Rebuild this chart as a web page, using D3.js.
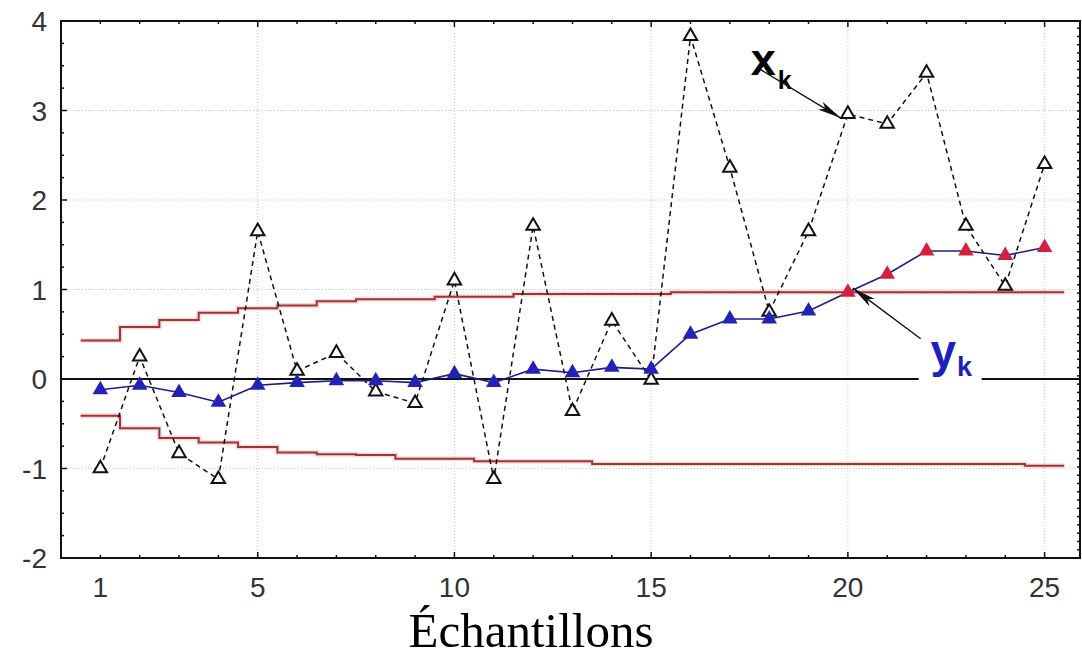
<!DOCTYPE html>
<html>
<head>
<meta charset="utf-8">
<script src="https://cdn.jsdelivr.net/npm/d3@7"></script>
<style>
html,body{margin:0;padding:0;background:#fff;}
svg{display:block;}
</style>
</head>
<body>
<svg id="chart" width="1082" height="657"></svg>
<script>
// ---- data ----
const samples = [1,2,3,4,5,6,7,8,9,10,11,12,13,14,15,16,17,18,19,20,21,22,23,24,25];
const xk = [-1.00, 0.25, -0.83, -1.12, 1.65, 0.09, 0.29, -0.14, -0.27, 1.10, -1.12, 1.71, -0.36, 0.65, -0.01, 3.83, 2.36, 0.75, 1.65, 2.96, 2.85, 3.42, 1.71, 1.04, 2.40];
const yk = [-0.12, -0.07, -0.15, -0.26, -0.07, -0.04, -0.02, -0.02, -0.04, 0.06, -0.04, 0.11, 0.07, 0.13, 0.11, 0.50, 0.67, 0.67, 0.76, 0.97, 1.17, 1.43, 1.43, 1.38, 1.47];
const upperLimit = [0.43, 0.58, 0.66, 0.74, 0.79, 0.82, 0.87, 0.89, 0.89, 0.92, 0.92, 0.95, 0.95, 0.95, 0.95, 0.97, 0.97, 0.97, 0.97, 0.97, 0.97, 0.97, 0.97, 0.97, 0.97];
const lowerLimit = [-0.41, -0.55, -0.66, -0.71, -0.76, -0.82, -0.84, -0.85, -0.89, -0.89, -0.92, -0.92, -0.92, -0.95, -0.95, -0.95, -0.95, -0.95, -0.95, -0.95, -0.95, -0.95, -0.95, -0.95, -0.97];
const alarm = [0,0,0,0,0,0,0,0,0,0,0,0,0,0,0,0,0,0,0,1,1,1,1,1,1];
const xTickLabels = [1, 5, 10, 15, 20, 25];
const yTickLabels = [-2, -1, 0, 1, 2, 3, 4];
const xLabel = "Échantillons";

// ---- layout ----
const svg = d3.select("#chart");
const x = d3.scaleLinear().domain([0, 25.9]).range([61, 1080]);
const y = d3.scaleLinear().domain([-2, 4]).range([558, 21]);

// grid
const grid = svg.append("g");
grid.selectAll("line.gv").data([5,10,15,20,25]).join("line")
  .attr("x1", d => x(d)).attr("x2", d => x(d)).attr("y1", y(4)).attr("y2", y(-2))
  .attr("stroke", "#c8c8c8").attr("stroke-width", 1).attr("stroke-dasharray", "1,2");
grid.selectAll("line.gh").data([-1,1,2,3]).join("line")
  .attr("x1", x(0)).attr("x2", x(25.9)).attr("y1", d => y(d)).attr("y2", d => y(d))
  .attr("stroke", "#c8c8c8").attr("stroke-width", 1).attr("stroke-dasharray", "1,2");

// zero line
svg.append("line").attr("x1", x(0)).attr("x2", x(25.9)).attr("y1", y(0)).attr("y2", y(0))
  .attr("stroke", "#111").attr("stroke-width", 2);

// limits (step lines)
const stepLine = d3.line().x(d => x(d[0])).y(d => y(d[1])).curve(d3.curveStepAfter);
function stepPts(vals){
  const pts = samples.map((s,i) => [s - 0.5, vals[i]]);
  pts.push([samples[samples.length-1] + 0.5, vals[vals.length-1]]);
  return pts;
}
[upperLimit, lowerLimit].forEach(v => {
  svg.append("path").attr("d", stepLine(stepPts(v)))
    .attr("fill", "none").attr("stroke", "#f3c4c4").attr("stroke-width", 5).attr("opacity", 0.6);
  svg.append("path").attr("d", stepLine(stepPts(v)))
    .attr("fill", "none").attr("stroke", "#9e3434").attr("stroke-width", 2);
});

// x_k dashed line
const line = d3.line().x(d => x(d[0])).y(d => y(d[1]));
svg.append("path").attr("d", line(samples.map((s,i) => [s, xk[i]])))
  .attr("fill", "none").attr("stroke", "#111").attr("stroke-width", 1.5).attr("stroke-dasharray", "5,4");

// y_k solid line
svg.append("path").attr("d", line(samples.map((s,i) => [s, yk[i]])))
  .attr("fill", "none").attr("stroke", "#1c1c8c").attr("stroke-width", 1.6);

// markers
const triOpen = d3.symbol().type(d3.symbolTriangle).size(78);
svg.selectAll("path.xk").data(samples).join("path")
  .attr("transform", (d,i) => `translate(${x(d)},${y(xk[i])})`)
  .attr("d", triOpen).attr("fill", "#fff").attr("stroke", "#111").attr("stroke-width", 2);

const triFill = d3.symbol().type(d3.symbolTriangle).size(105);
svg.selectAll("path.yk").data(samples).join("path")
  .attr("transform", (d,i) => `translate(${x(d)},${y(yk[i])})`)
  .attr("d", triFill).attr("fill", (d,i) => alarm[i] ? "#d3203e" : "#2222b4");

// axes frame
const frame = svg.append("g");
frame.append("rect").attr("x", x(0)).attr("y", y(4)).attr("width", x(25.9) - x(0)).attr("height", y(-2) - y(4))
  .attr("fill", "none").attr("stroke", "#111").attr("stroke-width", 2);

// ticks bottom/top
const xTicks = samples;
frame.selectAll("line.tb").data(xTicks).join("line")
  .attr("x1", d => x(d)).attr("x2", d => x(d))
  .attr("y1", y(-2)).attr("y2", d => y(-2) - (d % 5 === 0 ? 6 : 3))
  .attr("stroke", "#111").attr("stroke-width", 1.5);
frame.selectAll("line.tt").data(xTicks).join("line")
  .attr("x1", d => x(d)).attr("x2", d => x(d))
  .attr("y1", y(4)).attr("y2", d => y(4) + (d % 5 === 0 ? 6 : 3))
  .attr("stroke", "#111").attr("stroke-width", 1.5);
// left minor ticks every 0.25
const yMinor = d3.range(-2, 4.001, 0.25);
frame.selectAll("line.tl").data(yMinor).join("line")
  .attr("x1", x(0)).attr("x2", d => x(0) + (Math.abs(d - Math.round(d)) < 1e-6 ? 6 : 3))
  .attr("y1", d => y(d)).attr("y2", d => y(d))
  .attr("stroke", "#111").attr("stroke-width", 1.5);
// right ticks dense
const yRight = d3.range(-2, 4.001, 0.0925);
frame.selectAll("line.tr").data(yRight).join("line")
  .attr("x1", x(25.9)).attr("x2", x(25.9) - 3)
  .attr("y1", d => y(d)).attr("y2", d => y(d))
  .attr("stroke", "#111").attr("stroke-width", 1.5);

// tick labels
svg.selectAll("text.xl").data(xTickLabels).join("text")
  .attr("x", d => x(d)).attr("y", 597).attr("text-anchor", "middle")
  .attr("font-family", "Liberation Sans, Arial, sans-serif").attr("font-size", 28).attr("fill", "#333")
  .text(d => d);
svg.selectAll("text.yl").data(yTickLabels).join("text")
  .attr("x", 47).attr("y", d => y(d)).attr("dy", "0.36em").attr("text-anchor", "end")
  .attr("font-family", "Liberation Sans, Arial, sans-serif").attr("font-size", 28).attr("fill", "#333")
  .text(d => d);

// x label
svg.append("text").attr("x", 531).attr("y", 647).attr("text-anchor", "middle")
  .attr("font-family", "Liberation Serif, 'Times New Roman', serif").attr("font-size", 49).attr("fill", "#000")
  .text(xLabel);

// annotations
function arrow(x1, y1, x2, y2){
  const g = svg.append("g");
  g.append("line").attr("x1", x1).attr("y1", y1).attr("x2", x2).attr("y2", y2)
    .attr("stroke", "#111").attr("stroke-width", 1.4);
  const a = Math.atan2(y2 - y1, x2 - x1), L = 24, W = 4.5;
  const bx = x2 - L*Math.cos(a), by = y2 - L*Math.sin(a);
  const nx = x2 - (L-6)*Math.cos(a), ny = y2 - (L-6)*Math.sin(a);
  const px = -Math.sin(a), py = Math.cos(a);
  g.append("path").attr("d", `M${x2},${y2}L${bx+px*W},${by+py*W}L${nx},${ny}L${bx-px*W},${by-py*W}Z`)
    .attr("fill", "#111");
}
// x_k label
const xkLab = svg.append("text").attr("x", x(17.53)).attr("y", y(3.40))
  .attr("font-family", "Liberation Sans, Arial, sans-serif").attr("font-weight", "bold").attr("fill", "#000");
xkLab.append("tspan").attr("font-size", 45).text("x");
xkLab.append("tspan").attr("font-size", 25).attr("dy", 14).attr("dx", 2).text("k");
arrow(x(17.77), y(3.46), x(20) - 7, y(xk[19]) + 4);

// y_k label with white background
svg.append("rect").attr("x", x(21.8)).attr("y", y(0.5)).attr("width", x(23.4) - x(21.8)).attr("height", y(-0.06) - y(0.5))
  .attr("fill", "#fff");
const ykLab = svg.append("text").attr("x", x(22.1)).attr("y", y(0.13))
  .attr("font-family", "Liberation Sans, Arial, sans-serif").attr("font-weight", "bold").attr("fill", "#1f1fbf");
ykLab.append("tspan").attr("font-size", 46).text("y");
ykLab.append("tspan").attr("font-size", 27).attr("dy", 9).attr("dx", 1).text("k");
arrow(x(21.85), y(0.45), x(20) + 5, y(yk[19]) - 4);
</script>
</body>
</html>
